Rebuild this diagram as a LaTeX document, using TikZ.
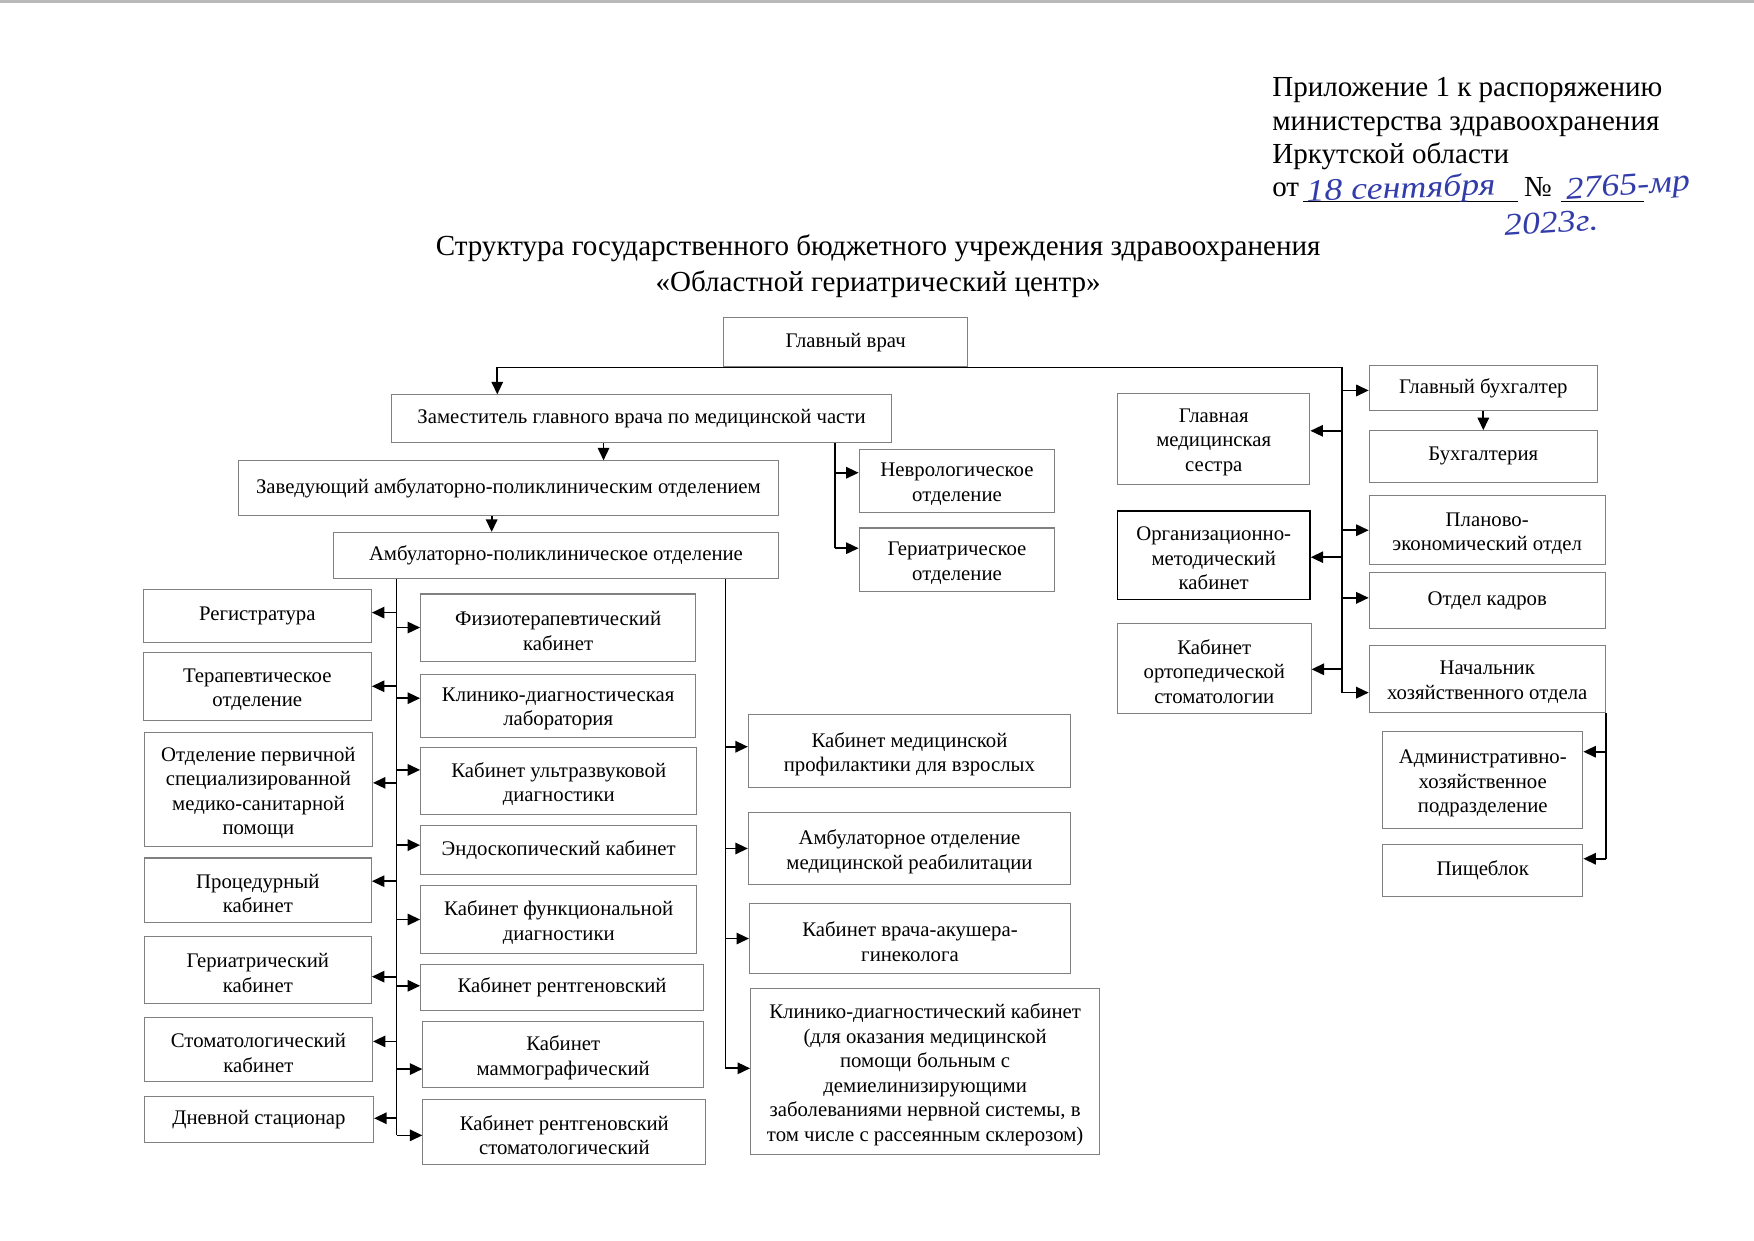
\documentclass[tikz,border=0pt]{standalone}
\usepackage{fontspec}
\setmainfont{Liberation Serif}
\usetikzlibrary{arrows.meta,fit,calc}
\definecolor{ink}{RGB}{50,60,170}
\definecolor{boxgray}{gray}{0.5}

\tikzset{
  box/.style={draw=boxgray, line width=0.5pt, inner sep=0pt},
  darkbox/.style={box, draw=black, line width=0.8pt},
  lab/.style={align=center, inner sep=0pt, font=\fontsize{10}{11.8}\selectfont},
  ln/.style={line width=0.8pt, black},
  arr/.style={ln, -{Triangle[length=6pt,width=5.5pt]}},
  hand/.style={ink, font=\fontsize{15}{15}\selectfont\itshape\addfontfeature{FakeStretch=1.15}, anchor=base west, inner sep=0pt},
}

% box with several lines: [style]{name}{corner}{corner}{text}
\newcommand\mkbox[5][box]{\node[#1, fit={#3 #4}] (#2) {};
  \node[lab] (#2t) at ([yshift=-0.55mm]#2.center) {#5};}
% box with one line
\newcommand\mkboxone[5][box]{\node[#1, fit={#3 #4}] (#2) {};
  \node[lab] (#2t) at (#2.center) {#5};}
% arrow from a vertical bus to the east / west side of a box, at a fraction of its height
\newcommand\arrE[3]{\path ($(#2.north east)!#3!(#2.south east)$) coordinate (#2a); \draw[arr] (#1 |- #2a) -- (#2a);}
\newcommand\arrW[3]{\path ($(#2.north west)!#3!(#2.south west)$) coordinate (#2a); \draw[arr] (#1 |- #2a) -- (#2a);}

\begin{document}
\begin{tikzpicture}[x=0.18941mm, y=-0.18941mm]
\path[use as bounding box] (0,0) rectangle (1568,1109.4);
\fill[gray!55] (0,0) rectangle (1568,3);

% header
\node[anchor=north west, align=left, inner sep=0pt, font=\fontsize{14}{16.1}\selectfont] (hdr) at (1137,69)
  {Приложение 1 к распоряжению\\министерства здравоохранения\\Иркутской области};
\node[anchor=base west, inner sep=0pt, font=\fontsize{14}{16.1}\selectfont] (ot) at (1137,176) {от};
\node[anchor=base west, inner sep=0pt, font=\fontsize{14}{16.1}\selectfont] (no) at (1362,176) {№};
\coordinate (u1a) at (1165,180); \coordinate (u1b) at (1357,180);
\coordinate (u2a) at (1395,180); \coordinate (u2b) at (1470,180);
\draw[line width=0.5pt] (u1a) -- (u1b);
\draw[line width=0.5pt] (u2a) -- (u2b);
\node[hand, rotate=2] (h1) at (1168,180) {18 сентября};
\node[hand, rotate=4] (h2) at (1400,178) {2765-мр};
\node[hand, rotate=4] (h3) at (1345,211) {2023г.};

% title
\node[align=center, font=\fontsize{14}{17.2}\selectfont] (title) at (785,238)
  {Структура государственного бюджетного учреждения здравоохранения\\«Областной гериатрический центр»};

% top level
\mkboxone{gv}{(647,284)}{(865,328)}{Главный врач}
\mkboxone{zam}{(350,353)}{(797,396)}{Заместитель главного врача по медицинской части}
\mkboxone{zav}{(213,412)}{(696,461)}{Заведующий амбулаторно-поликлиническим отделением}
\mkboxone{apo}{(298,476)}{(696,517)}{Амбулаторно-поликлиническое отделение}
\mkbox{nevr}{(768,402)}{(943,458)}{Неврологическое\\отделение}
\mkbox{gerO}{(768,472)}{(943,529)}{Гериатрическое\\отделение}

% right part
\mkboxone{gb}{(1224,327)}{(1428,367)}{Главный бухгалтер}
\mkboxone{buh}{(1224,385)}{(1428,431)}{Бухгалтерия}
\mkbox{plan}{(1224,443)}{(1435,505)}{Планово-\\экономический отдел}
\mkboxone{kadr}{(1224,512)}{(1435,562)}{Отдел кадров}
\mkbox{nach}{(1224,577)}{(1435,637)}{Начальник\\хозяйственного отдела}
\mkbox{gms}{(999,352)}{(1171,433)}{Главная\\медицинская\\сестра}
\mkbox[darkbox]{omk}{(999,457)}{(1171,536)}{Организационно-\\методический\\кабинет}
\mkbox{orto}{(999,557)}{(1172,638)}{Кабинет\\ортопедической\\стоматологии}
\mkbox{ahp}{(1236,654)}{(1415,741)}{Административно-\\хозяйственное\\подразделение}
\mkboxone{pish}{(1236,755)}{(1415,801)}{Пищеблок}

% left column
\mkboxone{reg}{(128,527)}{(332,574)}{Регистратура}
\mkbox{ter}{(128,583)}{(332,644)}{Терапевтическое\\отделение}
\mkbox{opsp}{(129,655)}{(333,757)}{Отделение первичной\\специализированной\\медико-санитарной\\помощи}
\mkbox{proc}{(129,767)}{(332,825)}{Процедурный\\кабинет}
\mkbox{gerK}{(129,837)}{(332,897)}{Гериатрический\\кабинет}
\mkbox{stom}{(129,910)}{(333,967)}{Стоматологический\\кабинет}
\mkboxone{dnev}{(129,980)}{(334,1021)}{Дневной стационар}

% middle column
\mkbox{fiz}{(376,531)}{(622,591)}{Физиотерапевтический\\кабинет}
\mkbox{kdl}{(376,603)}{(622,659)}{Клинико-диагностическая\\лаборатория}
\mkbox{uzi}{(376,668)}{(623,728)}{Кабинет ультразвуковой\\диагностики}
\mkboxone{endo}{(376,738)}{(623,782)}{Эндоскопический кабинет}
\mkbox{fd}{(376,792)}{(623,852)}{Кабинет функциональной\\диагностики}
\mkboxone{rent}{(376,862)}{(629,903)}{Кабинет рентгеновский}
\mkbox{mam}{(378,913)}{(629,972)}{Кабинет\\маммографический}
\mkbox{rsto}{(378,983)}{(631,1041)}{Кабинет рентгеновский\\стоматологический}

% right-middle column
\mkbox{prof}{(669,639)}{(957,704)}{Кабинет медицинской\\профилактики для взрослых}
\mkbox{reab}{(669,726)}{(957,791)}{Амбулаторное отделение\\медицинской реабилитации}
\mkbox{akush}{(670,808)}{(957,870)}{Кабинет врача-акушера-\\гинеколога}
\mkbox{kdk}{(671,884)}{(983,1032)}{Клинико-диагностический кабинет\\(для оказания медицинской\\помощи больным с\\демиелинизирующими\\заболеваниями нервной системы, в\\том числе с рассеянным склерозом)}

% ---- connectors ----
% top bus from chief doctor
\path (gv.south west) ++(-202,0) coordinate (tl);
\path (gv.south east) ++(334,0) coordinate (tr);
\draw[arr] (tr) -- (tl) -- (tl |- zam.north);

% right bus
\arrW{tr}{gb}{0.55}
\arrW{tr}{plan}{0.5}
\arrW{tr}{kadr}{0.45}
\arrW{tr}{nach}{0.7}
\arrE{tr}{gms}{0.41}
\arrE{tr}{omk}{0.52}
\arrE{tr}{orto}{0.51}
\draw[ln] (tr) -- (tr |- nacha);
\draw[arr] (gb.south) -- (buh.north);

% chief of economic dept
\arrE{nach.south east}{ahp}{0.21}
\arrE{nach.south east}{pish}{0.28}
\draw[ln] (nach.south east) -- (nach.south east |- pisha);

% deputy
\path (zam.south west) ++(190,0) coordinate (zz);
\draw[arr] (zz) -- (zz |- zav.north);
\path (zav.south west) ++(227,0) coordinate (za);
\draw[arr] (za) -- (za |- apo.north);
\path (zam.south east) ++(-51,0) coordinate (zb);
\arrW{zb}{nevr}{0.37}
\arrW{zb}{gerO}{0.32}
\draw[ln] (zb) -- (zb |- gerOa);

% outpatient department buses
\path (apo.south west) ++(57,0) coordinate (bl);
\path (apo.south east) ++(-48,0) coordinate (br);
\arrE{bl}{reg}{0.44}
\arrE{bl}{ter}{0.5}
\arrE{bl}{opsp}{0.44}
\arrE{bl}{proc}{0.36}
\arrE{bl}{gerK}{0.6}
\arrE{bl}{stom}{0.37}
\arrE{bl}{dnev}{0.48}
\arrW{bl}{fiz}{0.5}
\arrW{bl}{kdl}{0.38}
\arrW{bl}{uzi}{0.34}
\arrW{bl}{endo}{0.4}
\arrW{bl}{fd}{0.5}
\arrW{bl}{rent}{0.47}
\arrW{bl}{mam}{0.72}
\arrW{bl}{rsto}{0.55}
\draw[ln] (bl) -- (bl |- rstoa);
\arrW{br}{prof}{0.44}
\arrW{br}{reab}{0.5}
\arrW{br}{akush}{0.5}
\arrW{br}{kdk}{0.48}
\draw[ln] (br) -- (br |- kdka);
\end{tikzpicture}
\end{document}
